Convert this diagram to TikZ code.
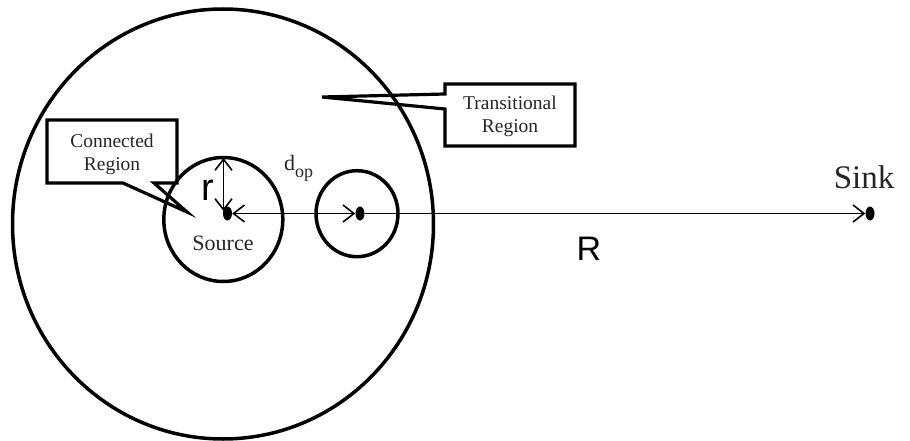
\documentclass[tikz,border=0pt]{standalone}
\usepackage{fontspec}
\setmainfont{Liberation Serif}
\newfontfamily\arialfont{Liberation Sans}
\usetikzlibrary{arrows.meta,shapes.geometric}
\begin{document}
\begin{tikzpicture}[x=1pt,y=-1pt,
  region/.style={line width=3.5pt},
  callout/.style={line width=3.2pt, line join=miter},
  dotnode/.style={ellipse, fill=black, inner sep=0pt, minimum width=9pt, minimum height=14pt},
  dimline/.style={line width=1.2pt, arrows={Straight Barb[length=11pt,width=17pt,line width=1.6pt]-Straight Barb[length=11pt,width=17pt,line width=1.6pt]}},
  fwdline/.style={line width=1.2pt, -{Straight Barb[length=11pt,width=17pt,line width=1.6pt]}},
  lbl/.style={inner sep=0pt, anchor=base, text=black!85},
  boxtext/.style={lbl, align=center, font=\fontsize{19.5}{23}\selectfont}
]
\useasboundingbox (0,0) rectangle (910,441);
% regions
\draw[region] (223,224) ellipse [x radius=210.5, y radius=215];
\draw[region] (223.3,219.5) ellipse [x radius=59.5, y radius=62];
\draw[region] (357,213.7) ellipse [x radius=41, y radius=43];
% nodes (dots)
\node[dotnode] (src) at (227.5,213.5) {};
\node[dotnode] (mid) at (360,213.5) {};
\node[dotnode] (sink) at (870,213.5) {};
\coordinate (rtop) at (223.5,158);
\coordinate (rbot) at (223.5,211);
% connectors
\draw[dimline] (src) -- (mid);
\draw[fwdline] (mid) -- (sink);
\draw[dimline] (rtop) -- (rbot);
% callouts
\draw[callout] (47,120) -- (177,120) -- (177,183) -- (154,183) -- (187,212) -- (123,183) -- (47,183) -- cycle;
\draw[callout] (445,84) -- (575,84) -- (575,146) -- (445,146) -- (445,109) -- (322,97) -- (445,94) -- cycle;
% labels
\node[boxtext] (conn) at (112,170) {Connected\\Region};
\node[boxtext] (trans) at (510,133) {Transitional\\Region};
\node[lbl, font=\fontsize{22}{24}\selectfont] (srclbl) at (223,250) {Source};
\node[lbl, font=\fontsize{33}{36}\selectfont] (sinklbl) at (864,188) {Sink};
\node[lbl, anchor=base west, font=\fontsize{22}{24}\selectfont] (dop) at (284,170) {d\raisebox{-7pt}{\fontsize{18}{20}\selectfont op}};
\node[lbl, text=black, font=\arialfont\fontsize{38}{40}\selectfont] (rlbl) at (208,200) {r};
\node[lbl, text=black, font=\arialfont\fontsize{34}{36}\selectfont] (Rlbl) at (589,260) {R};
\end{tikzpicture}
\end{document}
